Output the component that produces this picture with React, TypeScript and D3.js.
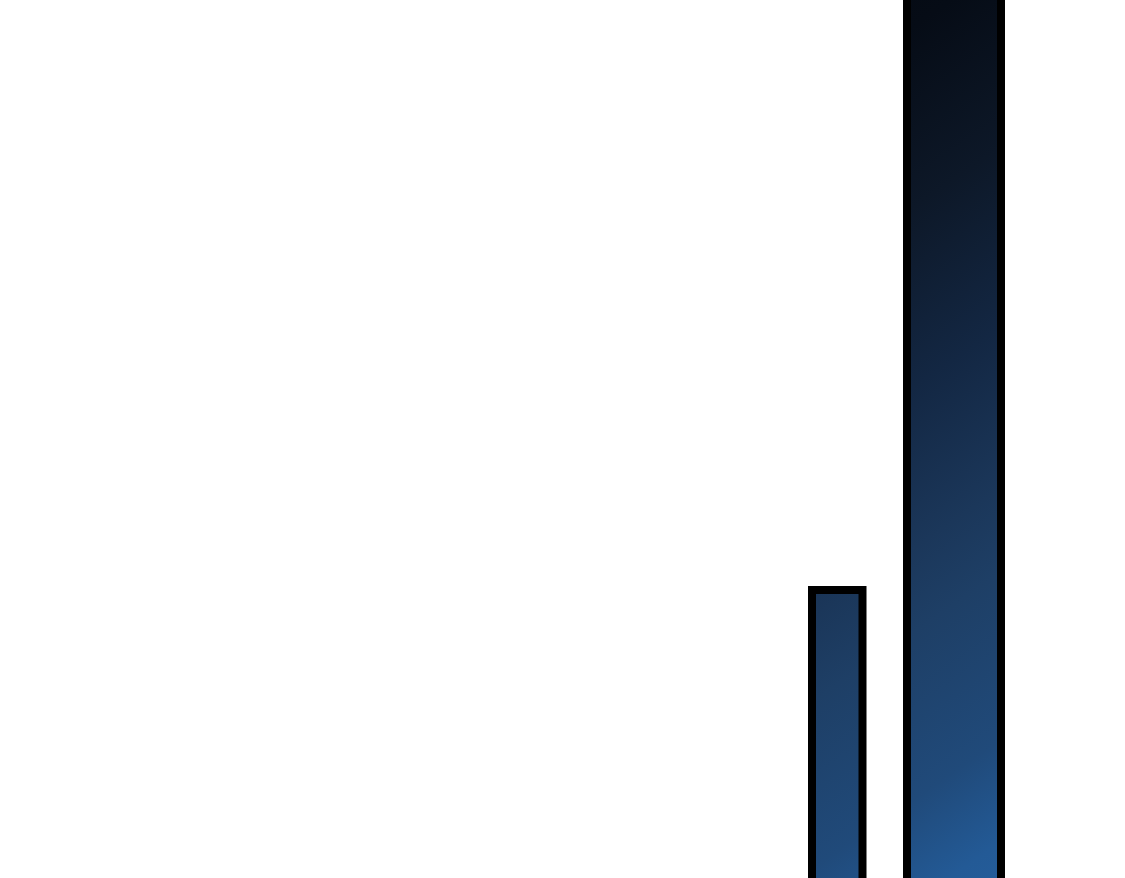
import * as d3 from 'd3';
import { useEffect, useRef } from 'react';

// two bars of a cropped bar chart, each with its own start/end along x
const categories = ['A', 'B'];
const binStart = [16.24, 18.14];
const binEnd = [17.25, 20.02];
const values = [41, 130];

const W = 1125;
const H = 878;

const App = () => {
    const ref = useRef<SVGSVGElement | null>(null);

    useEffect(() => {
        if (!ref.current) return;
        const svg = d3.select(ref.current);
        svg.selectAll('*').remove();

        const x = d3.scaleLinear().domain([0, 22.5]).range([0, W]);
        // baseline sits below the visible frame, the chart is cropped
        const y = d3.scaleLinear().domain([0, 100]).range([1000, 0]);

        // diagonal gradient shared by all bars (dark top-left -> blue bottom-right)
        const defs = svg.append('defs');
        const grad = defs.append('linearGradient')
            .attr('id', 'barGrad')
            .attr('gradientUnits', 'userSpaceOnUse')
            .attr('x1', 500).attr('y1', 0)
            .attr('x2', 1100).attr('y2', H);
        const stops: [number, string][] = [
            [0, '#02050a'],
            [0.24, '#060c16'],
            [0.38, '#0d1828'],
            [0.52, '#132743'],
            [0.645, '#1b375a'],
            [0.71, '#1e3f66'],
            [0.84, '#204a7a'],
            [0.92, '#235a96'],
            [1, '#2660a0'],
        ];
        stops.forEach(([o, c]) => {
            grad.append('stop').attr('offset', o).attr('stop-color', c);
        });

        const data = categories.map((c, i) => ({ c, x0: binStart[i], x1: binEnd[i], v: values[i] }));

        svg.append('g')
            .selectAll('rect')
            .data(data)
            .join('rect')
            .attr('x', d => x(d.x0))
            .attr('width', d => x(d.x1) - x(d.x0))
            .attr('y', d => y(d.v))
            .attr('height', d => y(0) - y(d.v))
            .attr('fill', 'url(#barGrad)')
            .attr('stroke', '#000')
            .attr('stroke-width', 8)
            .attr('stroke-linejoin', 'miter');
    }, []);

    return (
        <svg
            ref={ref}
            width={W}
            height={H}
            style={{ position: 'absolute', top: 0, left: 0, display: 'block', background: '#fff' }}
        />
    );
};

export default App;
